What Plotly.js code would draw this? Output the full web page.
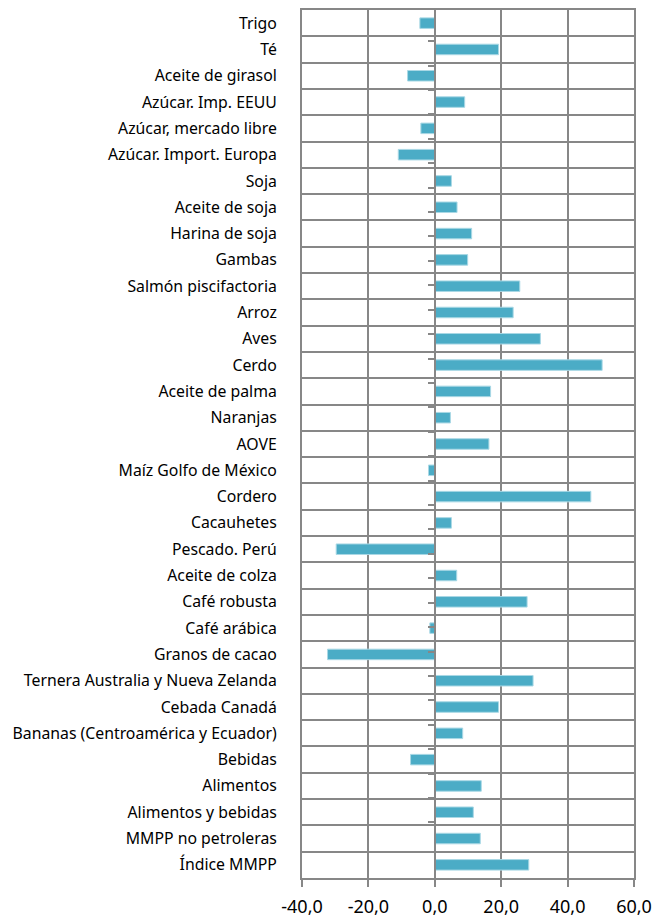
<!DOCTYPE html>
<html><head><meta charset="utf-8">
<script src="https://cdn.plot.ly/plotly-3.0.1.min.js"></script>
<style>body{margin:0;background:#fff}#chart{width:670px;height:918px}</style>
</head><body><div id="chart"></div>
<script>
const categories = ["Trigo","Té","Aceite de girasol","Azúcar. Imp. EEUU","Azúcar, mercado libre","Azúcar. Import. Europa","Soja","Aceite de soja","Harina de soja","Gambas","Salmón piscifactoria","Arroz","Aves","Cerdo","Aceite de palma","Naranjas","AOVE","Maíz Golfo de México","Cordero","Cacauhetes","Pescado. Perú","Aceite de colza","Café robusta","Café arábica","Granos de cacao","Ternera Australia y Nueva Zelanda","Cebada Canadá","Bananas (Centroamérica y Ecuador)","Bebidas","Alimentos","Alimentos y bebidas","MMPP no petroleras","Índice MMPP"];
const values = [-4.5,19.2,-8.2,9.0,-4.2,-11.0,5.0,6.7,11.1,9.9,25.6,23.6,31.8,50.4,16.8,4.7,16.3,-1.9,47.0,5.0,-29.7,6.6,27.8,-1.5,-32.3,29.6,19.2,8.4,-7.3,14.0,11.6,13.7,28.3];
const xTicks = [-40,-20,0,20,40,60];
const xTickText = ["-40,0","-20,0","0,0","20,0","40,0","60,0"];

const grid = '#878787';
const font = '"Noto Sans", sans-serif';
const data = [
  {type:'bar', orientation:'h', x: values, y: categories, width:0.4,
   marker:{color:'#4BACC6', line:{color:'#a9d8e5', width:1}}, hoverinfo:'x+y'},
  {type:'scatter', mode:'none', x: values.map(()=>0), y: categories, yaxis:'y2', hoverinfo:'skip', showlegend:false}
];
const layout = {
  width:670, height:918,
  margin:{l:302, r:36, t:10, b:40},
  paper_bgcolor:'#fff', plot_bgcolor:'#fff',
  showlegend:false,
  font:{family:font, color:'#000'},
  xaxis:{range:[-40,60], tickvals:xTicks, ticktext:xTickText, showgrid:true, gridcolor:grid, gridwidth:2,
         zeroline:false, showline:true, linecolor:grid, linewidth:2, mirror:true,
         ticks:'outside', ticklen:7, tickcolor:grid, tickwidth:2, ticklabelstandoff:4,
         tickfont:{size:18, color:'#000'}, fixedrange:true},
  yaxis:{type:'category', autorange:'reversed', tickson:'boundaries', showgrid:true, gridcolor:grid, gridwidth:2,
         showline:true, linecolor:grid, linewidth:2, mirror:true, ticks:'', ticklabelstandoff:20,
         tickfont:{size:15.8, color:'#000'}, fixedrange:true},
  yaxis2:{type:'category', overlaying:'y', anchor:'free', position:0.4, side:'left', autorange:'reversed',
          tickson:'boundaries', showgrid:false, showticklabels:false, showline:true, linecolor:grid, linewidth:2,
          ticks:'outside', ticklen:6, tickcolor:grid, tickwidth:2, fixedrange:true}
};
Plotly.newPlot('chart', data, layout, {displayModeBar:false, staticPlot:true});
</script></body></html>
